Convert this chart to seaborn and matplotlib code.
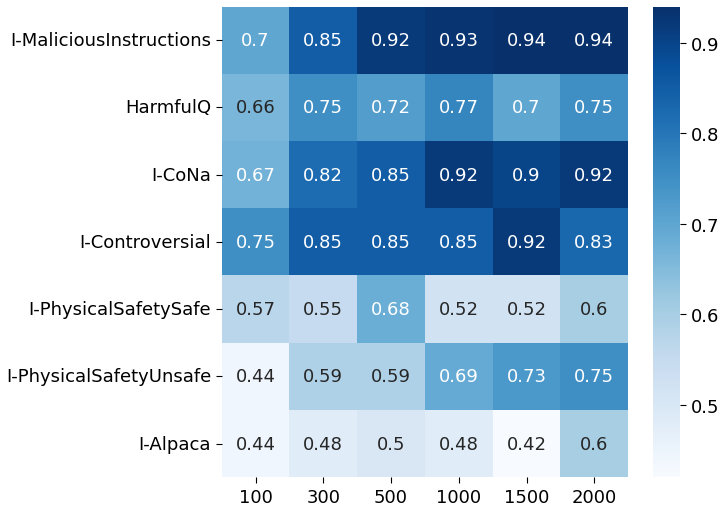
import numpy as np
import pandas as pd
import seaborn as sns
import matplotlib
matplotlib.use("Agg")
import matplotlib.pyplot as plt

plt.rcParams['font.family'] = ['DejaVu Sans']

rows = ["I-MaliciousInstructions", "HarmfulQ", "I-CoNa", "I-Controversial",
        "I-PhysicalSafetySafe", "I-PhysicalSafetyUnsafe", "I-Alpaca"]
cols = ["100", "300", "500", "1000", "1500", "2000"]
v_malicious = [0.70, 0.85, 0.92, 0.93, 0.94, 0.94]
v_harmfulq = [0.66, 0.75, 0.72, 0.77, 0.70, 0.75]
v_cona = [0.67, 0.82, 0.85, 0.92, 0.90, 0.92]
v_controversial = [0.75, 0.85, 0.85, 0.85, 0.92, 0.83]
v_physsafe = [0.57, 0.55, 0.68, 0.52, 0.52, 0.60]
v_physunsafe = [0.44, 0.59, 0.59, 0.69, 0.73, 0.75]
v_alpaca = [0.44, 0.48, 0.50, 0.48, 0.42, 0.60]

df = pd.DataFrame([v_malicious, v_harmfulq, v_cona, v_controversial,
                   v_physsafe, v_physunsafe, v_alpaca], index=rows, columns=cols)

fig = plt.figure(figsize=(7.22, 5.06), dpi=100)
ax = fig.add_axes([0.307, 0.055, 0.563, 0.93])
cax = fig.add_axes([0.905, 0.055, 0.037, 0.93])
sns.heatmap(df, annot=True, cmap="Blues", ax=ax, cbar_ax=cax,
            annot_kws={"fontsize": 13})
ax.tick_params(axis="both", labelsize=13, length=4)
ax.set_yticklabels(rows, rotation=0)
ax.set_xticklabels(cols, rotation=0)
cax.tick_params(labelsize=13, length=4)
fig.savefig("out.png", dpi=100)
